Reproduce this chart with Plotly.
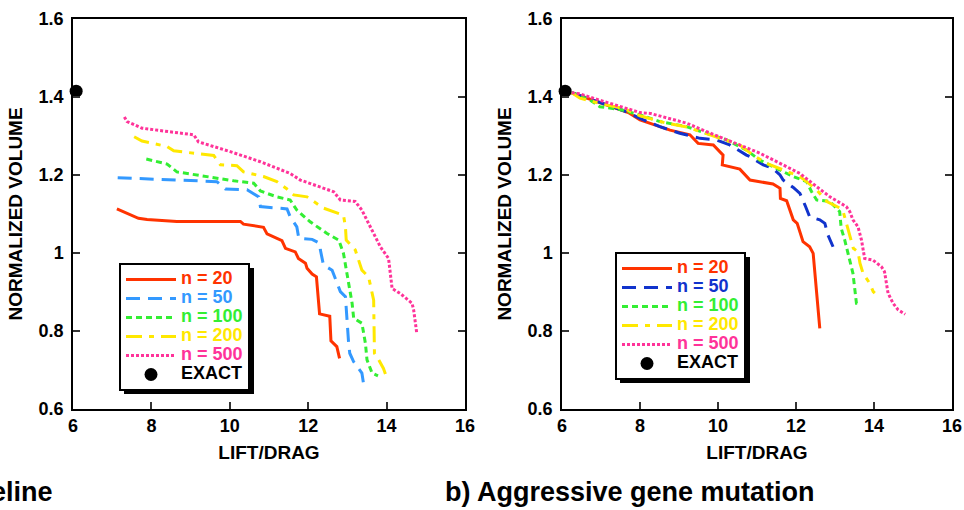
import plotly.graph_objects as go

# ---------------- data ----------------
series_names = ["n = 20", "n = 50", "n = 100", "n = 200", "n = 500"]
x_ticks = [6, 8, 10, 12, 14, 16]
x_tick_labels = ["6", "8", "10", "12", "14", "16"]
y_ticks = [0.6, 0.8, 1.0, 1.2, 1.4, 1.6]
y_tick_labels = ["0.6", "0.8", "1", "1.2", "1.4", "1.6"]

exact_x = [6.08]
exact_y = [1.415]

# a) Baseline (left panel)
left_x_20 = [7.12, 7.50, 7.67, 7.89, 8.65, 10.27, 10.35, 10.86, 10.95, 11.33, 11.42, 11.67, 11.75, 11.93, 11.97, 12.10, 12.21, 12.29, 12.55, 12.58, 12.73, 12.80]
left_y_20 = [1.113, 1.097, 1.089, 1.086, 1.081, 1.081, 1.074, 1.066, 1.049, 1.032, 1.012, 1.003, 0.986, 0.974, 0.961, 0.946, 0.939, 0.844, 0.838, 0.775, 0.760, 0.730]
left_x_50 = [7.14, 9.67, 9.89, 10.44, 10.74, 10.78, 11.46, 11.54, 11.71, 11.76, 12.10, 12.29, 12.31, 12.39, 12.61, 12.73, 12.82, 12.95, 12.99, 13.03, 13.06, 13.16, 13.37, 13.42]
left_y_50 = [1.193, 1.183, 1.164, 1.162, 1.144, 1.119, 1.113, 1.093, 1.067, 1.038, 1.035, 1.025, 1.008, 0.969, 0.956, 0.922, 0.901, 0.888, 0.820, 0.770, 0.743, 0.721, 0.692, 0.660]
left_x_100 = [7.87, 8.40, 8.65, 9.50, 10.10, 10.61, 10.78, 11.20, 11.54, 11.71, 12.05, 12.48, 12.78, 12.90, 12.99, 13.12, 13.16, 13.37, 13.46, 13.50, 13.63, 13.78]
left_y_100 = [1.241, 1.228, 1.208, 1.194, 1.185, 1.179, 1.159, 1.144, 1.136, 1.110, 1.080, 1.050, 1.033, 0.999, 0.948, 0.871, 0.833, 0.820, 0.768, 0.726, 0.692, 0.685]
left_x_200 = [7.56, 7.76, 8.40, 8.57, 9.59, 9.76, 10.18, 10.35, 10.86, 11.20, 11.46, 11.63, 11.97, 12.39, 12.90, 12.95, 12.97, 13.20, 13.37, 13.54, 13.67, 13.69, 13.80, 13.92, 13.97]
left_y_200 = [1.298, 1.287, 1.273, 1.262, 1.250, 1.226, 1.224, 1.208, 1.196, 1.183, 1.164, 1.149, 1.144, 1.115, 1.097, 1.067, 1.033, 1.008, 0.956, 0.939, 0.879, 0.743, 0.726, 0.704, 0.690]
left_x_500 = [7.31, 7.38, 7.76, 9.08, 9.20, 10.01, 10.78, 11.54, 11.80, 12.65, 12.82, 13.20, 13.37, 13.63, 13.84, 14.05, 14.14, 14.35, 14.65, 14.69, 14.77]
left_y_500 = [1.349, 1.337, 1.320, 1.303, 1.285, 1.260, 1.234, 1.204, 1.187, 1.157, 1.136, 1.132, 1.110, 1.059, 1.016, 0.986, 0.909, 0.896, 0.871, 0.854, 0.794]

# b) Aggressive gene mutation (right panel)
right_x_20 = [6.25, 7.0, 7.7, 8.0, 8.77, 9.28, 9.49, 9.88, 10.13, 10.11, 10.56, 10.82, 11.41, 11.59, 11.60, 11.76, 11.93, 12.03, 12.18, 12.35, 12.44, 12.53, 12.61]
right_y_20 = [1.411, 1.385, 1.360, 1.341, 1.315, 1.303, 1.281, 1.277, 1.251, 1.226, 1.215, 1.187, 1.177, 1.166, 1.140, 1.134, 1.085, 1.076, 1.029, 1.016, 0.999, 0.897, 0.807]
right_x_50 = [6.25, 7.0, 7.66, 8.0, 8.51, 9.02, 9.54, 9.96, 10.30, 10.73, 10.82, 11.16, 11.41, 11.59, 11.67, 11.93, 12.10, 12.23, 12.35, 12.61, 12.74, 12.82, 12.95]
right_y_50 = [1.411, 1.385, 1.362, 1.345, 1.324, 1.307, 1.294, 1.290, 1.277, 1.251, 1.247, 1.226, 1.217, 1.200, 1.187, 1.168, 1.153, 1.123, 1.093, 1.085, 1.076, 1.046, 1.016]
right_x_100 = [6.25, 6.72, 6.97, 7.49, 8.0, 8.51, 9.19, 9.71, 10.22, 10.73, 11.07, 11.50, 11.93, 12.27, 12.40, 12.53, 12.87, 13.12, 13.16, 13.25, 13.33, 13.46, 13.55, 13.64]
right_y_100 = [1.411, 1.392, 1.375, 1.368, 1.354, 1.337, 1.324, 1.307, 1.290, 1.264, 1.238, 1.217, 1.196, 1.183, 1.157, 1.136, 1.132, 1.106, 1.063, 1.033, 0.999, 0.948, 0.871, 0.871]
right_x_200 = [6.25, 6.46, 7.0, 7.6, 8.0, 8.6, 9.2, 9.8, 10.56, 10.90, 11.24, 11.67, 12.10, 12.27, 12.53, 12.79, 13.13, 13.21, 13.34, 13.47, 13.59, 13.64, 13.72, 13.89, 13.98, 14.02]
right_y_200 = [1.411, 1.397, 1.383, 1.370, 1.352, 1.335, 1.323, 1.303, 1.277, 1.251, 1.230, 1.213, 1.196, 1.183, 1.162, 1.132, 1.115, 1.106, 1.059, 1.012, 1.003, 0.974, 0.948, 0.922, 0.901, 0.897]
right_x_500 = [6.25, 6.46, 6.80, 7.40, 8.0, 8.26, 8.77, 9.19, 9.71, 10.22, 10.73, 11.07, 11.59, 12.10, 12.53, 12.87, 13.29, 13.38, 13.46, 13.59, 13.68, 13.76, 13.97, 14.19, 14.27, 14.36, 14.49, 14.62, 14.80]
right_y_500 = [1.411, 1.408, 1.397, 1.379, 1.360, 1.358, 1.345, 1.333, 1.311, 1.290, 1.268, 1.256, 1.230, 1.204, 1.170, 1.144, 1.119, 1.106, 1.085, 1.067, 1.033, 0.986, 0.982, 0.965, 0.952, 0.897, 0.871, 0.854, 0.843]

left_series = [(left_x_20, left_y_20), (left_x_50, left_y_50), (left_x_100, left_y_100),
               (left_x_200, left_y_200), (left_x_500, left_y_500)]
right_series = [(right_x_20, right_y_20), (right_x_50, right_y_50), (right_x_100, right_y_100),
                (right_x_200, right_y_200), (right_x_500, right_y_500)]

# ---------------- styles ----------------
left_colors = ["#ff3300", "#3399ff", "#33ee33", "#ffe800", "#ff3399"]
right_colors = ["#ff3300", "#1133cc", "#33ee33", "#ffe800", "#ff3399"]
dashes = ["solid", "14px,8px", "6px,4px", "16px,7px,5px,7px", "3px,2px"]
FONT = "Liberation Sans, Arial, Helvetica, sans-serif"

# layout geometry (pixels)
W, H = 964, 510
ML, MR, MT, MB = 73, 12, 19, 101
PW, PH = W - ML - MR, H - MT - MB


def px(x):
    return (x - ML) / PW


def py(y):
    return (H - MB - y) / PH


fig = go.Figure()


def add_panel(series, colors, xa, ya, legend):
    for (xs, ys), name, col, dash in zip(series, series_names, colors, dashes):
        fig.add_trace(go.Scatter(
            x=xs, y=ys, mode="lines", xaxis=xa, yaxis=ya, legend=legend,
            name=f"<span style='color:{col};font-size:18px'>{name}</span>",
            line=dict(color=col, width=3, dash=dash, shape="linear"),
            hoverinfo="x+y"))
    fig.add_trace(go.Scatter(
        x=exact_x, y=exact_y, mode="markers", xaxis=xa, yaxis=ya, legend=legend,
        name="<span style='color:#000000;font-size:18px'>EXACT</span>",
        marker=dict(color="black", size=13, symbol="circle"), cliponaxis=False))


add_panel(left_series, left_colors, "x", "y", "legend")
add_panel(right_series, right_colors, "x2", "y2", "legend2")

axis_common = dict(
    showgrid=False, zeroline=False, showline=True, linecolor="black", linewidth=1.5,
    ticks="inside", ticklen=7, tickwidth=1.5, tickcolor="#333333", automargin=False,
    tickfont=dict(family=FONT, size=18, color="black", weight="bold"),
)
xaxis_common = dict(axis_common, range=[6, 16], tickvals=x_ticks, ticktext=x_tick_labels,
                    mirror=True, title=dict(text="LIFT/DRAG", standoff=10,
                                            font=dict(family=FONT, size=19, color="black", weight="bold")))
yaxis_common = dict(axis_common, range=[0.6, 1.6], tickvals=y_ticks, ticktext=y_tick_labels,
                    mirror="ticks", ticklabelstandoff=4,
                    title=dict(text="NORMALIZED VOLUME", standoff=11,
                               font=dict(family=FONT, size=19, color="black", weight="bold")))

legend_common = dict(
    bgcolor="white", bordercolor="black", borderwidth=2,
    font=dict(family=FONT, size=12, color="black", weight="bold"),
    xanchor="left", yanchor="top", itemwidth=50, traceorder="normal",
    itemclick=False, itemdoubleclick=False,
)

# legend boxes (pixels): left, top, width, height
LEG1 = (119, 263, 131, 127)
LEG2 = (615, 252, 131, 127)


def shadow(box):
    x0, y0, w, h = box
    return dict(type="rect", xref="paper", yref="paper", layer="above",
                x0=px(x0 + 5), x1=px(x0 + w + 4), y0=py(y0 + h + 4), y1=py(y0 + 5),
                fillcolor="black", line=dict(width=0))


fig.update_layout(
    width=W, height=H, autosize=False,
    margin=dict(l=ML, r=MR, t=MT, b=MB, autoexpand=False),
    paper_bgcolor="white", plot_bgcolor="white",
    showlegend=True,
    xaxis=dict(xaxis_common, domain=[0, px(465)], anchor="y"),
    yaxis=dict(yaxis_common, domain=[0, 1], anchor="x"),
    xaxis2=dict(xaxis_common, domain=[px(562), 1], anchor="y2"),
    yaxis2=dict(yaxis_common, domain=[0, 1], anchor="x2"),
    legend=dict(legend_common, x=px(LEG1[0]), y=py(LEG1[1])),
    legend2=dict(legend_common, x=px(LEG2[0]), y=py(LEG2[1])),
    shapes=[shadow(LEG1), shadow(LEG2)],
    annotations=[
        dict(text="a) Baseline", xref="paper", yref="paper", x=px(55), y=py(492),
             xanchor="right", yanchor="middle", showarrow=False,
             font=dict(family=FONT, size=27, color="black", weight="bold")),
        dict(text="b) Aggressive gene mutation", xref="paper", yref="paper", x=px(443), y=py(492),
             xanchor="left", yanchor="middle", showarrow=False,
             font=dict(family=FONT, size=27, color="black", weight="bold")),
    ],
)

fig.write_html("out.html", config={"displayModeBar": False},
               post_script="document.body.style.margin='0';document.body.style.padding='0';")
